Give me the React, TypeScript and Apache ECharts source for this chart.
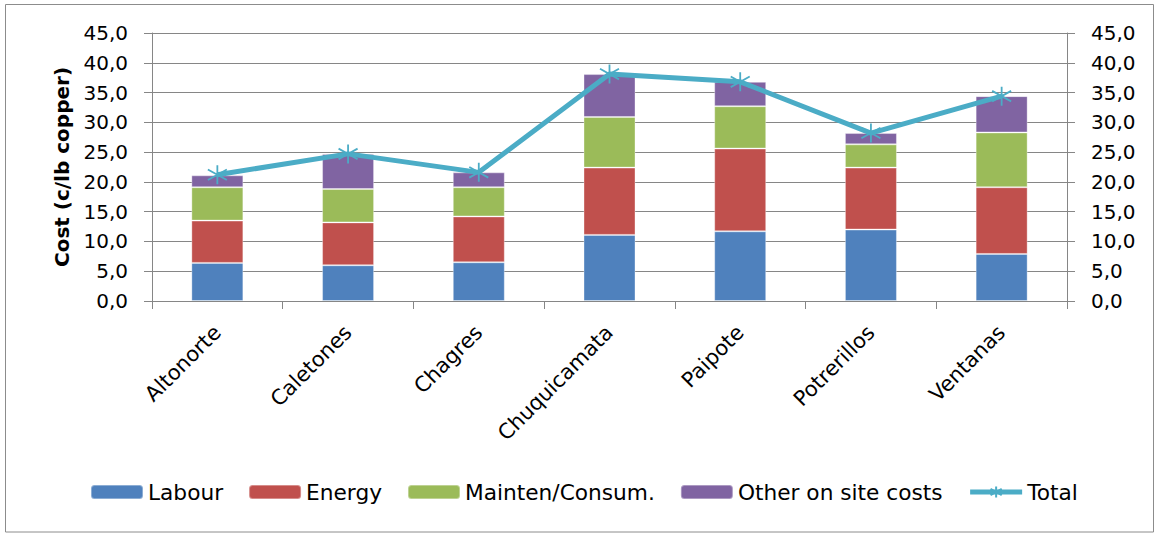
import React, { useEffect, useRef } from "react";
import * as echarts from "echarts";

const categories = ["Altonorte", "Caletones", "Chagres", "Chuquicamata", "Paipote", "Potrerillos", "Ventanas"];
const labour = [6.4, 6.0, 6.5, 11.1, 11.7, 12.0, 7.9];
const energy = [7.1, 7.2, 7.7, 11.3, 13.9, 10.4, 11.2];
const mainten = [5.6, 5.6, 4.9, 8.5, 7.1, 3.9, 9.2];
const other = [2.0, 5.9, 2.5, 7.2, 4.1, 1.9, 6.1];
const total = [21.2, 24.7, 21.6, 38.1, 36.8, 28.2, 34.4];

const Y_MIN = 0;
const Y_MAX = 45;
const Y_STEP = 5;

const FONT = "DejaVu Sans";
const GRAY = "#868686";

const fmt = (v: number) => v.toFixed(1).replace(".", ",");

export default function App() {
  const ref = useRef<HTMLDivElement>(null);
  useEffect(() => {
    if (!ref.current) return;
    const chart = echarts.init(ref.current, null, { renderer: "svg" });
    const yAxisBase = {
      type: "value",
      min: Y_MIN,
      max: Y_MAX,
      interval: Y_STEP,
      axisLine: { show: true, lineStyle: { color: GRAY, width: 1 } },
      axisTick: { show: true, inside: false, length: 8, lineStyle: { color: GRAY } },
      axisLabel: {
        formatter: (v: number) => fmt(v),
        color: "#000",
        fontFamily: FONT,
        fontSize: 20,
        margin: 24,
      },
    };
    const barSeries = (name: string, data: number[], color: string) => ({
      name,
      type: "bar",
      stack: "cost",
      data,
      barWidth: 52,
      itemStyle: { color, borderColor: "rgba(255,255,255,0.35)", borderWidth: 1 },
    });
    chart.setOption({
      animation: false,
      grid: { left: 152, right: 88, top: 33, bottom: 232, containLabel: false },
      graphic: [
        {
          type: "rect",
          shape: { x: 5.5, y: 4.5, width: 1148, height: 527.5 },
          style: { fill: "none", stroke: "#8c8c8c", lineWidth: 1 },
          silent: true,
        },
      ],
      legend: {
        left: 90,
        top: 481,
        padding: 0,
        itemWidth: 52,
        itemHeight: 14,
        itemGap: 25,
        lineStyle: { width: 5 },
        textStyle: { fontFamily: FONT, fontSize: 21.7, color: "#000" },
        data: ["Labour", "Energy", "Mainten/Consum.", "Other on site costs", "Total"],
      },
      xAxis: {
        type: "category",
        data: categories,
        axisLine: { show: true, lineStyle: { color: GRAY, width: 1 } },
        axisTick: { show: true, length: 8, lineStyle: { color: GRAY } },
        axisLabel: {
          interval: 0,
          rotate: 45,
          margin: 28,
          color: "#000",
          fontFamily: FONT,
          fontSize: 21,
        },
      },
      yAxis: [
        {
          ...yAxisBase,
          position: "left",
          name: "Cost (c/lb copper)",
          nameLocation: "middle",
          nameGap: 80,
          nameTextStyle: { fontFamily: FONT, fontSize: 20, fontWeight: "bold", color: "#000" },
          splitLine: { show: true, lineStyle: { color: GRAY, width: 1 } },
        },
        {
          ...yAxisBase,
          position: "right",
          splitLine: { show: false },
        },
      ],
      series: [
        barSeries("Labour", labour, "#4F81BD"),
        barSeries("Energy", energy, "#C0504D"),
        barSeries("Mainten/Consum.", mainten, "#9BBB59"),
        barSeries("Other on site costs", other, "#8064A2"),
        {
          name: "Total",
          type: "line",
          data: total,
          yAxisIndex: 0,
          z: 5,
          symbol: "path://M9,0 L9,18 M0,4 L18,14 M0,14 L18,4",
          symbolSize: [19, 19],
          lineStyle: { color: "#4BACC6", width: 5 },
          itemStyle: { color: "#4BACC6", borderColor: "#4BACC6", borderWidth: 1.8 },
        },
      ],
    });
    return () => chart.dispose();
  }, []);
  return (
    <div
      ref={ref}
      style={{ position: "fixed", left: 0, top: 0, width: 1155, height: 533, background: "#fff" }}
    />
  );
}
